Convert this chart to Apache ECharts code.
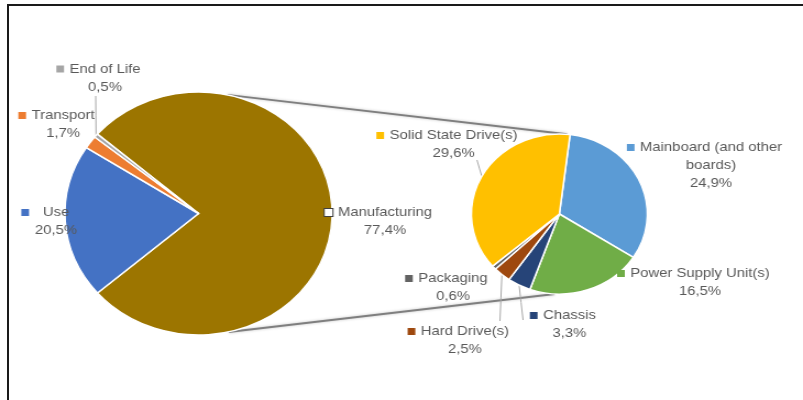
<!DOCTYPE html>
<html>
<head>
<meta charset="utf-8">
<script src="https://cdn.jsdelivr.net/npm/echarts@6/dist/echarts.min.js"></script>
<style>
  html, body { margin: 0; padding: 0; background: #fff; }
  #frame { position: absolute; left: 7px; top: 4px; width: 800px; height: 400px; z-index: 10;
           pointer-events: none;
           border-left: 2px solid #1a1a1a; border-top: 2px solid #1a1a1a; }
  #c { position: absolute; left: 0; top: 0; width: 730px; height: 400px;
       transform: scaleX(1.1); transform-origin: 0 0; }
</style>
</head>
<body>
<div id="c"></div>
<div id="frame"></div>
<script>
// ---- data ----
const mainNames = ['Manufacturing', 'Use', 'Transport', 'End of Life'];
const mainValues = [77.4, 20.5, 1.7, 0.5];
const subNames = ['Mainboard (and other boards)', 'Power Supply Unit(s)', 'Chassis', 'Hard Drive(s)', 'Packaging', 'Solid State Drive(s)'];
const subValues = [24.9, 16.5, 3.3, 2.5, 0.6, 29.6];

// ---- styles ----
const mainColors = ['#9C7500', '#4472C4', '#ED7D31', '#A5A5A5'];
const subColors = ['#5B9BD5', '#70AD47', '#264478', '#9E480E', '#636363', '#FFC000'];
const mainLabelText = ['Manufacturing', '  Use  ', 'Transport', 'End of Life'];
const subLabelText = ['Mainboard (and other\nboards)', 'Power Supply Unit(s)', 'Chassis', 'Hard Drive(s)', 'Packaging', 'Solid State Drive(s)'];
// label centres (chart px, before horizontal stretch)
const mainLabelPos = [[350, 221.5], [50.9, 221.5], [57.3, 124.5], [95.5, 78]];
const subLabelPos = [[646.4, 165.5], [636.4, 282.5], [517.7, 324.5], [422.7, 340.5], [411.8, 287.5], [412.3, 144.5]];
// leader-line end points near the labels (null = no leader line)
const mainLeaderEnds = [null, null, null, [87, 96]];
const subLeaderEnds = [null, null, [475.5, 320], [454.5, 321], null, [433.6, 160]];

const bigC = [180.5, 213.5], bigR = 121.5;
const smallC = [508.5, 214], smallR = 80;

const fmt = v => v.toFixed(1).replace('.', ',') + '%';
const TEXT = '#595959';
const FONT = "'Liberation Sans', Arial, sans-serif";
const FS = 13.5;

function richFor(color, hollow) {
  return {
    k: { width: 7, height: 7, backgroundColor: hollow ? '#fff' : color,
         borderColor: hollow ? '#404040' : color, borderWidth: hollow ? 1 : 0,
         fontSize: 1, lineHeight: 18 },
    g: { width: 5, fontSize: FS, lineHeight: 18 },
    s: { width: 12, fontSize: FS, lineHeight: 18 },
    t: { color: TEXT, fontSize: FS, fontFamily: FONT, lineHeight: 18 }
  };
}
function labelText(text, value) {
  const lines = text.split('\n');
  let out = '{k| }{g| }{t|' + lines[0] + '}{s| }';
  for (let i = 1; i < lines.length; i++) out += '\n{t|' + lines[i] + '}';
  out += '\n{t|' + fmt(value) + '}';
  return out;
}

function buildData(names, values, colors, texts, ends, hollowIdx) {
  return names.map((n, i) => ({
    name: n,
    value: values[i],
    itemStyle: { color: colors[i] },
    label: {
      formatter: labelText(texts[i], values[i]),
      rich: richFor(colors[i], i === hollowIdx)
    },
    labelLine: { show: ends[i] != null }
  }));
}

function layoutFor(pos, ends) {
  return function (p) {
    const xy = pos[p.dataIndex];
    const res = { x: xy[0], y: xy[1], align: 'center', verticalAlign: 'middle' };
    const e = ends[p.dataIndex];
    if (e && p.labelLinePoints && p.labelLinePoints.length) {
      const s = p.labelLinePoints[0];
      res.labelLinePoints = [[s[0], s[1]], [(s[0] + e[0]) / 2, (s[1] + e[1]) / 2], [e[0], e[1]]];
    }
    return res;
  };
}

function pt(c, r, deg) {
  const a = deg * Math.PI / 180;
  return [c[0] + r * Math.cos(a), c[1] - r * Math.sin(a)];
}
const t1 = pt(bigC, bigR, 77.5), t2 = pt(smallC, smallR, 85);
const b1 = pt(bigC, bigR, -77), b2 = pt(smallC, smallR, -93);

const chart = echarts.init(document.getElementById('c'));
const common = {
  type: 'pie',
  clockwise: true,
  avoidLabelOverlap: false,
  minShowLabelAngle: 0,
  animation: false,
  label: { show: true, position: 'outside', align: 'center', color: TEXT, fontFamily: FONT, fontSize: FS, lineHeight: 18 },
  labelLine: { show: true, length: 5, length2: 5, smooth: false, lineStyle: { color: '#a6a6a6', width: 1 } },
  itemStyle: { borderColor: '#fff', borderWidth: 1.5 },
  emphasis: { disabled: true }
};

chart.setOption({
  backgroundColor: 'transparent',
  animation: false,
  graphic: [
    { type: 'line', z: 0, shape: { x1: t1[0], y1: t1[1], x2: t2[0], y2: t2[1] },
      style: { stroke: '#7f7f7f', lineWidth: 2, shadowBlur: 3, shadowColor: 'rgba(0,0,0,0.25)' } },
    { type: 'line', z: 0, shape: { x1: b1[0], y1: b1[1], x2: b2[0], y2: b2[1] },
      style: { stroke: '#7f7f7f', lineWidth: 2, shadowBlur: 3, shadowColor: 'rgba(0,0,0,0.25)' } }
  ],
  series: [
    Object.assign({}, common, {
      name: 'Life cycle',
      center: bigC, radius: [0, bigR],
      startAngle: 139.2,
      z: 3,
      data: buildData(mainNames, mainValues, mainColors, mainLabelText, mainLeaderEnds, 0),
      labelLayout: layoutFor(mainLabelPos, mainLeaderEnds)
    }),
    Object.assign({}, common, {
      name: 'Manufacturing',
      center: smallC, radius: [0, smallR],
      startAngle: 83,
      z: 3,
      data: buildData(subNames, subValues, subColors, subLabelText, subLeaderEnds, -1),
      labelLayout: layoutFor(subLabelPos, subLeaderEnds)
    })
  ]
});
</script>
</body>
</html>
